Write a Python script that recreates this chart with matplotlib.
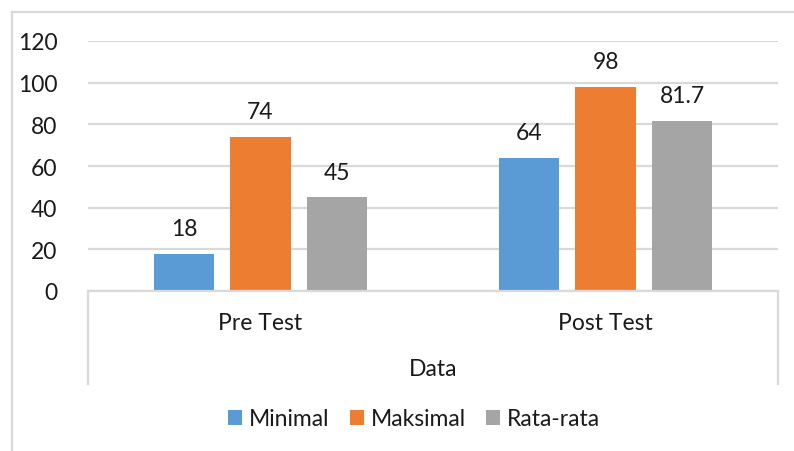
import matplotlib
matplotlib.use("Agg")
import matplotlib.pyplot as plt
import matplotlib.transforms as mtransforms
from matplotlib.lines import Line2D
from matplotlib.patches import Patch
import numpy as np

categories = ["Pre Test", "Post Test"]
series_names = ["Minimal", "Maksimal", "Rata-rata"]
minimal = [18, 64]
maksimal = [74, 98]
rata_rata = [45, 81.7]
value_labels = [["18", "64"], ["74", "98"], ["45", "81.7"]]
axis_title = "Data"
yticks = [0, 20, 40, 60, 80, 100, 120]

colors = ["#5B9BD5", "#ED7D31", "#A5A5A5"]
grid_c = "#D9D9D9"
text_c = "#1a1a1a"

plt.rcParams['font.family'] = ['Lato', 'DejaVu Sans']
FS = 16.5

W, H = 794, 452
fig = plt.figure(figsize=(W / 100, H / 100), dpi=100)

def fx(px):
    return px / W

def fy(py):
    return 1 - py / H

left, right, top, bottom = 88, 778, 42, 292
ax = fig.add_axes([fx(left), fy(bottom), fx(right) - fx(left), fy(top) - fy(bottom)])

x = np.arange(len(categories))
width = 0.174
offset = 0.222
data = [minimal, maksimal, rata_rata]
for i, (vals, c) in enumerate(zip(data, colors)):
    xs = x + (i - 1) * offset
    bars = ax.bar(xs, vals, width=width, color=c, zorder=3)
    for b, lab in zip(bars, value_labels[i]):
        ax.annotate(lab, (b.get_x() + b.get_width() / 2, b.get_height()),
                    xytext=(0, 25), textcoords="offset pixels",
                    ha="center", va="center", fontsize=FS, color=text_c)

ax.set_xlim(-0.5, 1.5)
ax.set_ylim(0, 120)
ax.set_yticks(yticks)
ax.set_yticklabels([str(v) for v in yticks], fontsize=FS, color=text_c)
ax.tick_params(axis="y", length=0, pad=22)
ax.yaxis.grid(True, color=grid_c, linewidth=1.6, zorder=0)
ax.set_axisbelow(True)
for s in ax.spines.values():
    s.set_visible(False)
ax.set_xticks(x)
ax.set_xticklabels([])
ax.tick_params(axis="x", length=0)
tr = mtransforms.blended_transform_factory(ax.transData, fig.transFigure)
for xi, cat in zip(x, categories):
    ax.text(xi, fy(324), cat, transform=tr, ha="center", va="center",
            fontsize=FS, color=text_c)

# category axis lines
fig.add_artist(Line2D([fx(left), fx(right)], [fy(bottom), fy(bottom)], color=grid_c, lw=1.6))
for px in (left, right):
    fig.add_artist(Line2D([fx(px), fx(px)], [fy(bottom), fy(385)], color=grid_c, lw=1.6))

fig.text(fx(433), fy(370), axis_title, ha="center", va="center", fontsize=FS, color=text_c)

# chart border
fig.add_artist(Line2D([fx(12), fx(12)], [fy(13), 0], color=grid_c, lw=1.6))
fig.add_artist(Line2D([fx(12), 1], [fy(13), fy(13)], color=grid_c, lw=1.6))

handles = [Patch(facecolor=c, edgecolor="none") for c in colors]
fig.legend(handles, series_names, loc="center", bbox_to_anchor=(fx(414), fy(420)),
           ncol=3, frameon=False, fontsize=FS, handlelength=0.6, handleheight=0.6,
           handletextpad=0.3, columnspacing=0.9, labelcolor=text_c,
           borderpad=0, borderaxespad=0)

fig.savefig("out.png", dpi=100)
